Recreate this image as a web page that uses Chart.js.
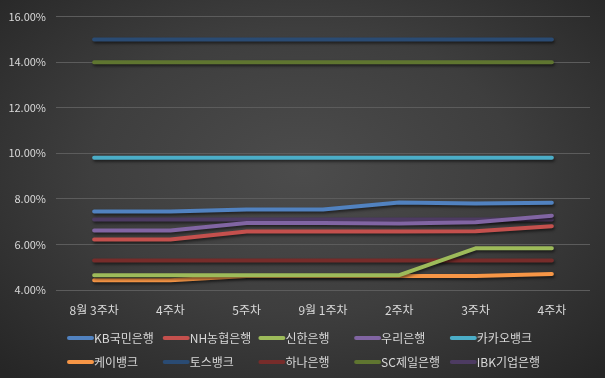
<!DOCTYPE html>
<html>
<head>
<meta charset="utf-8">
<script src="https://cdn.jsdelivr.net/npm/chart.js@4"></script>
<style>
  html, body { margin: 0; padding: 0; }
  body {
    width: 605px; height: 378px; overflow: hidden;
    background: radial-gradient(ellipse 70% 75% at 50% 45%, #4c4c4c 0%, #3e3e3e 50%, #262626 100%);
  }
  #wrap { position: relative; width: 605px; height: 378px; }
</style>
</head>
<body>
<div id="wrap"><canvas id="chart"></canvas></div>
<script>
var weeks = ["8월 3주차", "4주차", "5주차", "9월 1주차", "2주차", "3주차", "4주차"];

var bankNames = ["KB국민은행", "NH농협은행", "신한은행", "우리은행", "카카오뱅크",
                 "케이뱅크", "토스뱅크", "하나은행", "SC제일은행", "IBK기업은행"];

var kb     = [7.45, 7.45, 7.53, 7.53, 7.84, 7.80, 7.83];
var nh     = [6.22, 6.22, 6.57, 6.57, 6.57, 6.58, 6.80];
var shinhan= [4.65, 4.65, 4.65, 4.65, 4.65, 5.83, 5.83];
var woori  = [6.61, 6.61, 6.94, 6.94, 6.92, 6.97, 7.26];
var kakao  = [9.80, 9.80, 9.80, 9.80, 9.80, 9.80, 9.80];
var kbank  = [4.43, 4.43, 4.61, 4.61, 4.61, 4.61, 4.70];
var toss   = [15.0, 15.0, 15.0, 15.0, 15.0, 15.0, 15.0];
var hana   = [5.30, 5.30, 5.30, 5.30, 5.30, 5.30, 5.30];
var sc     = [14.0, 14.0, 14.0, 14.0, 14.0, 14.0, 14.0];
var ibk    = [7.09, 7.09, 7.09, 7.09, 7.09, 7.09, 7.09];

var seriesValues = [kb, nh, shinhan, woori, kakao, kbank, toss, hana, sc, ibk];
var colors = ['#5182c0', '#c4504d', '#9dbb5a', '#8165a3', '#4badc7',
              '#f79646', '#2a4b73', '#772c2a', '#5f7530', '#4d3b62'];

var FONT = '"Noto Sans CJK KR", "Noto Sans", sans-serif';
var TEXT = '#d9d9d9';

var datasets = bankNames.map(function (name, i) {
  return {
    label: name,
    data: seriesValues[i],
    borderColor: colors[i],
    backgroundColor: colors[i],
    borderWidth: 4,
    borderCapStyle: 'round',
    borderJoinStyle: 'round',
    pointRadius: 0,
    tension: 0,
    fill: false
  };
});

// soft drop shadow under each line, like the office style
var shadowPlugin = {
  id: 'shadow',
  beforeDatasetDraw: function (chart) {
    var c = chart.ctx;
    c.save();
    c.shadowColor = 'rgba(0,0,0,0.55)';
    c.shadowBlur = 3;
    c.shadowOffsetX = 1;
    c.shadowOffsetY = 2;
  },
  afterDatasetDraw: function (chart) {
    chart.ctx.restore();
  }
};

// legend in two rows of five fixed columns
var legendPlugin = {
  id: 'gridLegend',
  afterDraw: function (chart) {
    var c = chart.ctx;
    c.save();
    c.font = '12px ' + FONT;
    c.textBaseline = 'middle';
    c.fillStyle = TEXT;
    chart.data.datasets.forEach(function (ds, i) {
      var col = i % 5, row = Math.floor(i / 5);
      var x = 67 + col * 95.7;
      var y = 338 + row * 24;
      c.strokeStyle = ds.borderColor;
      c.lineWidth = 4;
      c.lineCap = 'round';
      c.beginPath();
      c.moveTo(x + 2, y);
      c.lineTo(x + 25, y);
      c.stroke();
      c.fillText(ds.label, x + 27, y);
    });
    c.restore();
  }
};

new Chart(document.getElementById('chart'), {
  type: 'line',
  data: { labels: weeks, datasets: datasets },
  plugins: [shadowPlugin, legendPlugin],
  options: {
    responsive: true,
    maintainAspectRatio: false,
    animation: false,
    layout: { padding: { top: 12, right: 15, bottom: 63, left: 0 } },
    plugins: {
      legend: { display: false },
      tooltip: { enabled: false }
    },
    scales: {
      x: {
        offset: true,
        grid: { display: false },
        border: { display: false },
        ticks: { color: TEXT, font: { family: FONT, size: 12 }, padding: 5, maxRotation: 0 },
        afterFit: function (s) { s.height = 25; }
      },
      y: {
        min: 4,
        max: 16,
        grid: { color: '#5c5c5c', lineWidth: 1, drawTicks: false },
        border: { display: false },
        ticks: {
          stepSize: 2,
          color: TEXT,
          font: { family: FONT, size: 11 },
          padding: 10,
          callback: function (v) { return v.toFixed(2) + '%'; }
        },
        afterFit: function (s) { s.width = 56; }
      }
    }
  }
});
</script>
</body>
</html>
